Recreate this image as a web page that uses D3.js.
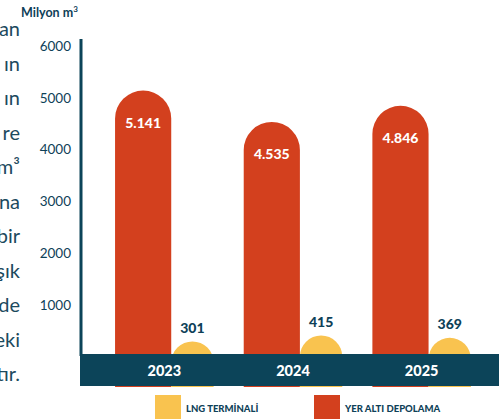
<!DOCTYPE html>
<html><head><meta charset="utf-8">
<script src="https://cdn.jsdelivr.net/npm/d3@7"></script>
<style>html,body{margin:0;padding:0;background:#fff;overflow:hidden}</style>
</head><body>
<svg id="c" width="499" height="419"></svg>
<script>
const years = ["2023", "2024", "2025"];
const yerAlti = [5141, 4535, 4846];
const lng = [301, 415, 369];
const yTicks = [1000, 2000, 3000, 4000, 5000, 6000];
const seriesNames = ["LNG TERMİNALİ", "YER ALTI DEPOLAMA"];
const sideText = ["an", "ın", "ın", "re", "m³", "na", "bir", "şık", "de", "eki", "tır."];

const C = { red: "#d3401e", yellow: "#f9c34f", band: "#0c4459", text: "#0e4158" };
const svg = d3.select("#c");
const trLocale = d3.formatLocale({decimal: ",", thousands: ".", grouping: [3], currency: ["", "₺"]});
const fmt = trLocale.format(",d");

const base = 357;
const y = d3.scaleLinear().domain([0, 6000]).range([base, 46]);
const x = d3.scaleBand().domain(years).range([100, 486]).paddingInner(0.234).paddingOuter(0.117);
const bw = x.bandwidth();
const redW = bw * 0.57, yelW = bw - redW;

// clipped paragraph on the left
svg.append("g").selectAll("text").data(sideText).join("text")
  .attr("x", 20).attr("y", (d, i) => 28 + i * 34.5)
  .attr("text-anchor", "end").attr("dominant-baseline", "central")
  .attr("font-family", "Lato, sans-serif").attr("font-size", 20)
  .attr("fill", "#1c4a5e").text(d => d);

// unit label
const unit = svg.append("text").attr("x", 21).attr("y", 17)
  .attr("font-family", "Lato, sans-serif").attr("font-weight", 700)
  .attr("font-size", 12.5).attr("fill", C.text);
unit.append("tspan").text("Milyon m");
unit.append("tspan").attr("dy", -5).attr("font-size", 8).text("3");

// y axis tick labels
const yAxis = d3.axisLeft(y).tickValues(yTicks).tickSize(0).tickPadding(0).tickFormat(d3.format("d"));
const ga = svg.append("g").attr("transform", "translate(71,0)").call(yAxis);
ga.select(".domain").remove();
ga.selectAll("text").attr("font-family", "Lato, sans-serif").attr("font-size", 13.5)
  .attr("fill", C.text);

// axis line
svg.append("line").attr("x1", 81).attr("x2", 81).attr("y1", 39).attr("y2", 356)
  .attr("stroke", C.band).attr("stroke-width", 3);

function capBar(x0, w, yTop) {
  const r = w / 2;
  return `M${x0},${base + 30}L${x0},${yTop + r}A${r},${r} 0 0 1 ${x0 + w},${yTop + r}L${x0 + w},${base + 30}Z`;
}

const g = svg.append("g");
years.forEach((yr, i) => {
  const x0 = x(yr);
  const yt = y(yerAlti[i]);
  g.append("path").attr("d", capBar(x0, redW, yt)).attr("fill", C.red);
  g.append("text").attr("x", x0 + redW / 2).attr("y", yt + 32)
    .attr("text-anchor", "middle").attr("dominant-baseline", "central")
    .attr("font-family", "Lato, sans-serif").attr("font-weight", 900)
    .attr("font-size", 14).attr("fill", "#fff").text(fmt(yerAlti[i]));
  const yl = y(lng[i]);
  g.append("path").attr("d", capBar(x0 + redW, yelW, yl)).attr("fill", C.yellow);
  g.append("text").attr("x", x0 + redW + yelW / 2).attr("y", yl - 14)
    .attr("text-anchor", "middle").attr("dominant-baseline", "central")
    .attr("font-family", "Lato, sans-serif").attr("font-weight", 900)
    .attr("font-size", 14).attr("fill", C.text).text(fmt(lng[i]));
});

// bottom band with year labels
svg.append("rect").attr("x", 80).attr("y", 354).attr("width", 419).attr("height", 32).attr("fill", C.band);
const xAxis = d3.axisBottom(x).tickSize(0).tickPadding(0);
const gx = svg.append("g").attr("transform", "translate(0,370)").call(xAxis);
gx.select(".domain").remove();
gx.selectAll("text").attr("dy", null).attr("dominant-baseline", "central")
  .attr("font-family", "Lato, sans-serif").attr("font-weight", 900)
  .attr("font-size", 14.5).attr("fill", "#fff");

// legend
const legX = [155, 314];
const legCol = [C.yellow, C.red];
seriesNames.forEach((n, i) => {
  svg.append("rect").attr("x", legX[i]).attr("y", 395).attr("width", 26).attr("height", 26).attr("fill", legCol[i]);
  svg.append("text").attr("x", legX[i] + 31).attr("y", 408).attr("dominant-baseline", "central")
    .attr("font-family", "Lato, sans-serif").attr("font-weight", 900)
    .attr("font-size", 9.5).attr("fill", C.text).text(n);
});
</script>
</body></html>
